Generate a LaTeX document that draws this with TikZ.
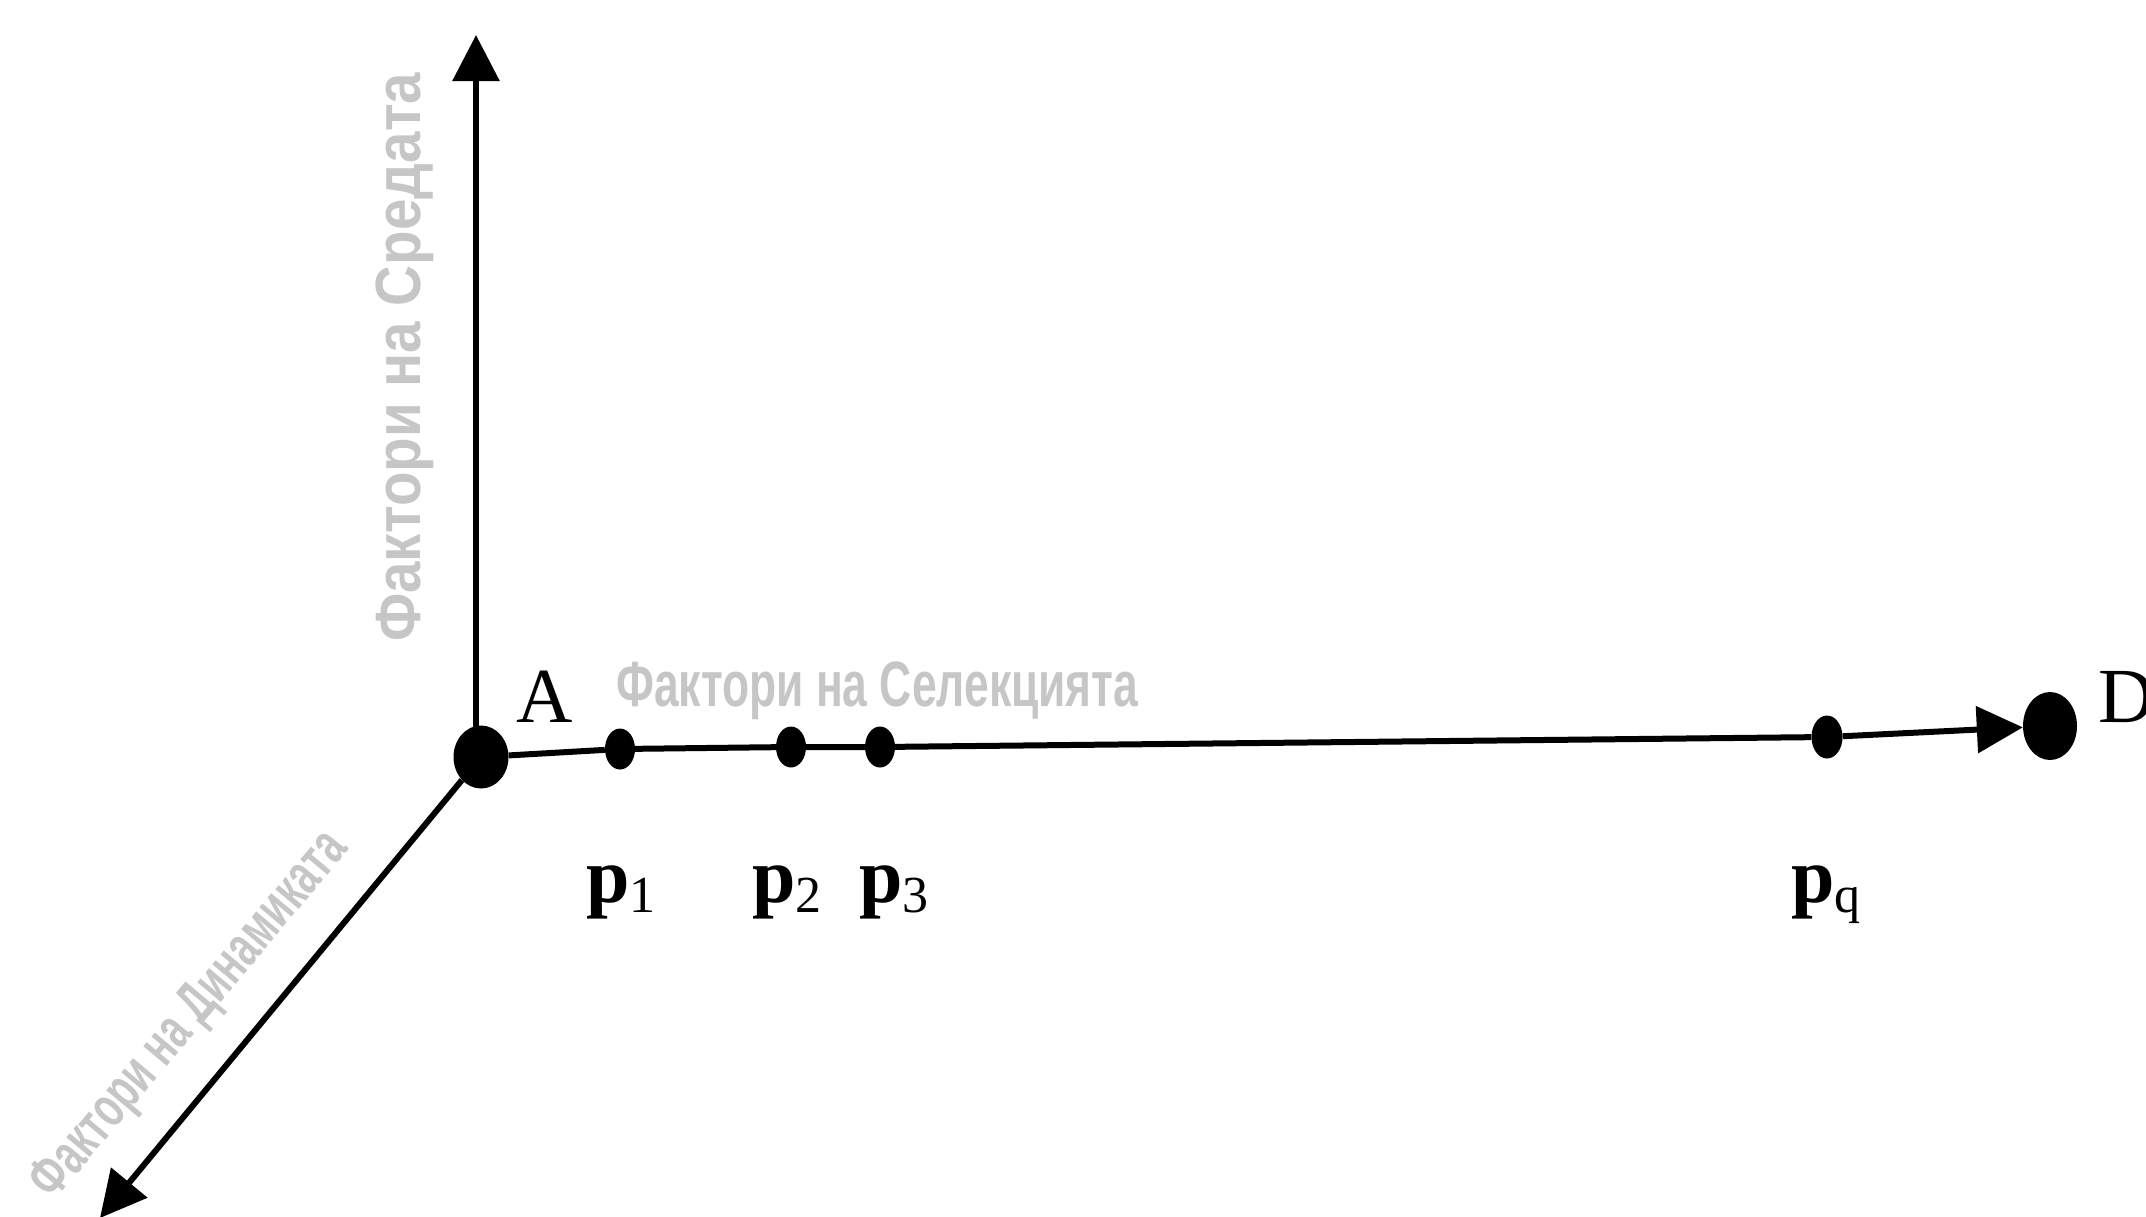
\documentclass[tikz,border=0pt]{standalone}
\usepackage{fontspec}
\usepackage{graphicx}
\setmainfont{Liberation Serif}
\newfontfamily\axfont{Liberation Sans}
\usetikzlibrary{arrows.meta,shapes.geometric}
\definecolor{axgray}{RGB}{198,198,198}
\newcommand\plab[1]{\textbf{p}\raisebox{-10pt}{\fontsize{52}{52}\selectfont #1}}
\begin{document}
\begin{tikzpicture}[x=1pt,y=-1pt,
  axis/.style={line width=6pt, black},
  tipped/.style={-{Triangle[width=46pt,length=46pt]}},
  bigdot/.style={ellipse, fill=black, inner sep=0pt},
  smalldot/.style={ellipse, fill=black, inner sep=0pt, minimum width=30pt, minimum height=41pt},
  lab/.style={font=\fontsize{78}{80}\selectfont, inner sep=0pt},
  axlab/.style={font=\axfont\bfseries\fontsize{64}{66}\selectfont, text=axgray, inner sep=0pt}]
\clip (0,0) rectangle (2146,1216);
% points
\node[bigdot, minimum width=55pt, minimum height=63pt] (A) at (481,757) {};
\node[smalldot] (p1) at (620,749) {};
\node[smalldot] (p2) at (791,747) {};
\node[smalldot] (p3) at (880,747) {};
\node[smalldot, minimum width=31pt, minimum height=43pt] (pq) at (1827,737) {};
\node[bigdot, minimum width=54pt, minimum height=68pt] (D) at (2050,726) {};
\coordinate (ytop) at (476,35);
\coordinate (zend) at (100,1218);
% axes
\draw[axis, tipped] (A.center -| ytop) -- (ytop);
\draw[axis, tipped] (A) -- (zend);
\draw[axis] (A) -- (p1) -- (p2) -- (p3) -- (pq);
\draw[axis, tipped] (pq) -- (D);
% axis labels
\node[axlab, rotate=90, anchor=base west] (tenv) at (420,642) {\resizebox{569pt}{\height}{Фактори на Средата}};
\node[axlab, anchor=base west] (tsel) at (616,706) {\resizebox{522pt}{\height}{Фактори на Селекцията}};
\node[axlab, font=\axfont\bfseries\fontsize{58}{60}\selectfont, rotate=50, anchor=mid] (tdyn) at (200,1024) {\resizebox{460pt}{\height}{Фактори на Динамиката}};
% point labels
\node[lab, anchor=base] (lA) at (545,722) {A};
\node[lab, anchor=base west] (lD) at (2098,722) {D};
\node[lab, anchor=base] (lp1) at (621,902) {\plab{1}};
\node[lab, anchor=base] (lp2) at (787,902) {\plab{2}};
\node[lab, anchor=base] (lp3) at (894,902) {\plab{3}};
\node[lab, anchor=base] (lpq) at (1826,902) {\plab{q}};
\end{tikzpicture}
\end{document}
